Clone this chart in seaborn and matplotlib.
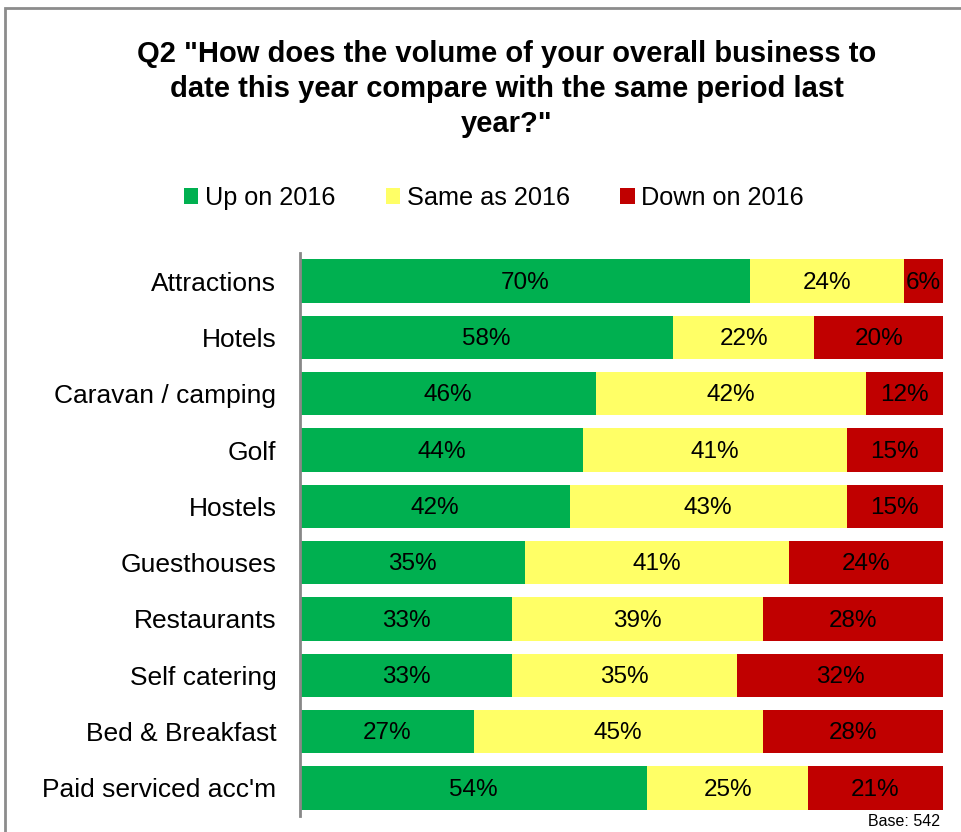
import matplotlib
matplotlib.use("Agg")
import matplotlib.pyplot as plt
from matplotlib.patches import Rectangle, Patch
import seaborn as sns
import pandas as pd

categories = ["Attractions", "Hotels", "Caravan / camping", "Golf", "Hostels",
              "Guesthouses", "Restaurants", "Self catering", "Bed & Breakfast",
              "Paid serviced acc'm"]
up = [70, 58, 46, 44, 42, 35, 33, 33, 27, 54]
same = [24, 22, 42, 41, 43, 41, 39, 35, 45, 25]
down = [6, 20, 12, 15, 15, 24, 28, 32, 28, 21]
series_names = ["Up on 2016", "Same as 2016", "Down on 2016"]
title = 'Q2 "How does the volume of your overall business to\ndate this year compare with the same period last\nyear?"'
base_note = "Base: 542"

colors = ["#00B050", "#FFFF66", "#C00000"]

sns.set_theme(style="white")
plt.rcParams["font.family"] = ["Liberation Sans", "DejaVu Sans"]
plt.rcParams["text.color"] = "black"
plt.rcParams["ytick.color"] = "black"
plt.rcParams["axes.labelcolor"] = "black"

df = pd.DataFrame({"category": categories, "up": up, "same": same, "down": down})
df["cum_same"] = df["up"] + df["same"]
df["cum_down"] = df["cum_same"] + df["down"]

fig = plt.figure(figsize=(9.61, 8.32), dpi=100)
ax = fig.add_axes([300 / 961, 1 - 816 / 832, 643 / 961, (816 - 253) / 832])

# Stacked bars drawn as overlapping cumulative layers
bar_w = 0.77
for col, c in [("cum_down", colors[2]), ("cum_same", colors[1]), ("up", colors[0])]:
    sns.barplot(data=df, y="category", x=col, orient="h", color=c, width=bar_w,
                saturation=1, ax=ax, linewidth=0, order=categories)

# Segment value labels
for i, row in df.iterrows():
    starts = [0, row["up"], row["cum_same"]]
    vals = [row["up"], row["same"], row["down"]]
    for s, v in zip(starts, vals):
        ax.text(s + v / 2, i + 0.03, f"{v}%", ha="center", va="center",
                fontsize=17.5, color="black")

ax.set_xlim(0, 100)
ax.set_ylim(9.5, -0.5)
ax.set_xlabel("")
ax.set_ylabel("")
ax.set_xticks([])
ax.tick_params(axis="y", length=0, pad=17, labelsize=19, labelcolor="black")
for s in ["top", "right", "bottom"]:
    ax.spines[s].set_visible(False)
ax.spines["left"].set_color("#888888")
ax.spines["left"].set_linewidth(2)

fig.text(507 / 961, 1 - 89 / 832, title, ha="center", va="center",
         fontsize=21, fontweight="bold", linespacing=1.33, color="black")

handles = [Patch(facecolor=c, edgecolor="none") for c in colors]
fig.legend(handles, series_names, loc="center", bbox_to_anchor=(494 / 961, 1 - 198 / 832),
           ncol=3, frameon=False, fontsize=18.2, handlelength=0.58, handleheight=0.6,
           handletextpad=0.25, columnspacing=2.0)

fig.text(940 / 961, 1 - 821 / 832, base_note, ha="right", va="center", fontsize=11.5,
         color="black")

# Outer frame
fig.add_artist(Rectangle((5 / 961, -0.2), 2.0, 1.2 - 8 / 832, transform=fig.transFigure,
                         fill=False, edgecolor="#8c8c8c", linewidth=2, clip_on=False))

fig.savefig("out.png", dpi=100)
